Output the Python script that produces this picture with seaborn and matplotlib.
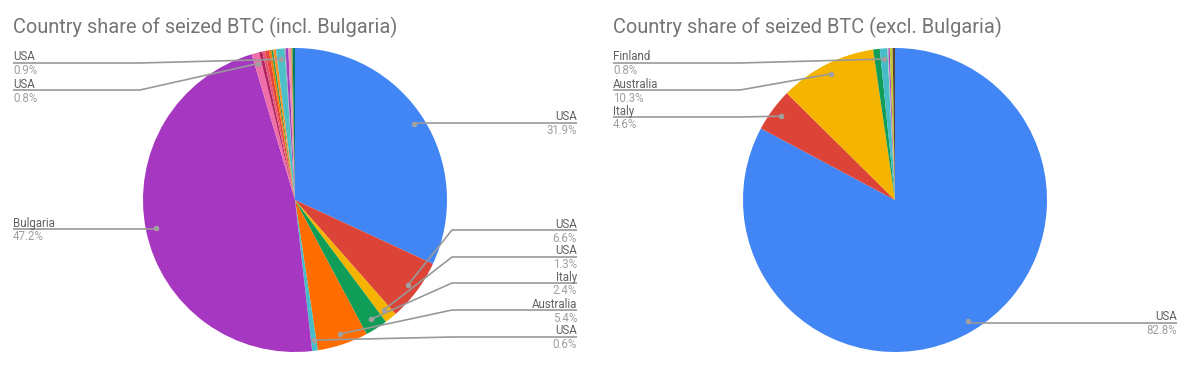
import matplotlib
matplotlib.use("Agg")
import matplotlib.pyplot as plt
import seaborn as sns
import numpy as np

# ---------------- data ----------------
titles = ["Country share of seized BTC (incl. Bulgaria)",
          "Country share of seized BTC (excl. Bulgaria)"]

# left pie, clockwise from 12 o'clock
left_labels = ["USA", "USA", "USA", "Italy", "Australia", "USA", "Bulgaria",
               "USA", "", "", "", "", "", "", "USA", "", "", "", "", ""]
left_values = [31.9, 6.6, 1.3, 2.4, 5.4, 0.6, 47.2,
               0.8, 0.35, 0.3, 0.4, 0.25, 0.2, 0.3, 0.9, 0.1, 0.3, 0.3, 0.15, 0.25]
left_colors = ["#4285F4", "#DB4437", "#F4B400", "#0F9D58", "#FF6D01", "#46BDC6", "#A637C0",
               "#F06EAA", "#B5245E", "#E4577A", "#E8453C", "#F57C00", "#2E9E4F", "#FF8F2B",
               "#4DBFC6", "#9AA3B0", "#9C3FC0", "#F48FB1", "#9E9D24", "#00796B"]

# right pie, clockwise from 12 o'clock
right_labels = ["USA", "Italy", "Australia", "", "Finland", "", "", "", ""]
right_values = [82.8, 4.6, 10.3, 0.7, 0.8, 0.1, 0.15, 0.3, 0.25]
right_colors = ["#4285F4", "#DB4437", "#F4B400", "#0F9D58", "#46BDC6",
                "#B0BEC5", "#AB47BC", "#C0CA33", "#5D4037"]

# ---------------- style ----------------
sns.set_theme(style="white")
plt.rcParams["font.family"] = ["Roboto", "DejaVu Sans"]

W, H = 1200, 370
fig = plt.figure(figsize=(W / 100, H / 100), dpi=100)
ax = fig.add_axes([0, 0, 1, 1])
ax.set_xlim(0, W)
ax.set_ylim(0, H)
ax.set_aspect("equal")
ax.axis("off")

LINE = "#999999"
NAME_C = "#616161"
PCT_C = "#A0A0A0"
R = 152
FS = 8.3

def Y(ypx):
    return H - ypx

def draw_pie(cx, cy_px, values, colors, labels, layout, title, title_x):
    wedges, _ = ax.pie(values, colors=colors, startangle=90, counterclock=False,
                       center=(cx, Y(cy_px)), radius=R, frame=True,
                       wedgeprops=dict(linewidth=0))
    total = sum(values)
    ax.text(title_x, Y(33), title, fontsize=14.4, color="#757575",
            ha="left", va="baseline")
    for idx, side, ly, elbow, tx in layout:
        w = wedges[idx]
        th = np.deg2rad((w.theta1 + w.theta2) / 2)
        dx = w.center[0] + 0.93 * R * np.cos(th)
        dy = w.center[1] + 0.93 * R * np.sin(th)
        ex = dx if elbow is None else elbow
        ax.plot([dx, ex, tx], [dy, Y(ly), Y(ly)], color=LINE, lw=1.2,
                solid_capstyle="butt", zorder=3)
        ax.plot([dx], [dy], "o", ms=4, color="#A0A0A0", mec="none", zorder=4)
        ha = "right" if side == "r" else "left"
        ax.text(tx, Y(ly) + 2.5, labels[idx], fontsize=FS, color=NAME_C,
                ha=ha, va="baseline")
        pct = values[idx] / total * 100
        ax.text(tx, Y(ly) - 1.5, f"{pct:.1f}%", fontsize=FS, color=PCT_C,
                ha=ha, va="top")

# (slice index, side, label line y, elbow x, text x)
left_layout = [
    (0, "r", 123, None, 577),
    (1, "r", 230, 452, 577),
    (2, "r", 257, 452, 577),
    (3, "r", 283, 452, 577),
    (4, "r", 310, 452, 577),
    (5, "r", 337, 452, 577),
    (6, "l", 229, None, 13),
    (7, "l", 90, 140, 13),
    (14, "l", 63, 140, 13),
]
right_layout = [
    (0, "r", 323, None, 1177),
    (1, "l", 117, 740, 613),
    (2, "l", 90, 740, 613),
    (4, "l", 63, 740, 613),
]

draw_pie(295, 200, left_values, left_colors, left_labels, left_layout, titles[0], 13)
draw_pie(895, 200, right_values, right_colors, right_labels, right_layout, titles[1], 613)

ax.set_xlim(0, W)
ax.set_ylim(0, H)
ax.axis("off")
fig.savefig("out.png", dpi=100, facecolor="white")
